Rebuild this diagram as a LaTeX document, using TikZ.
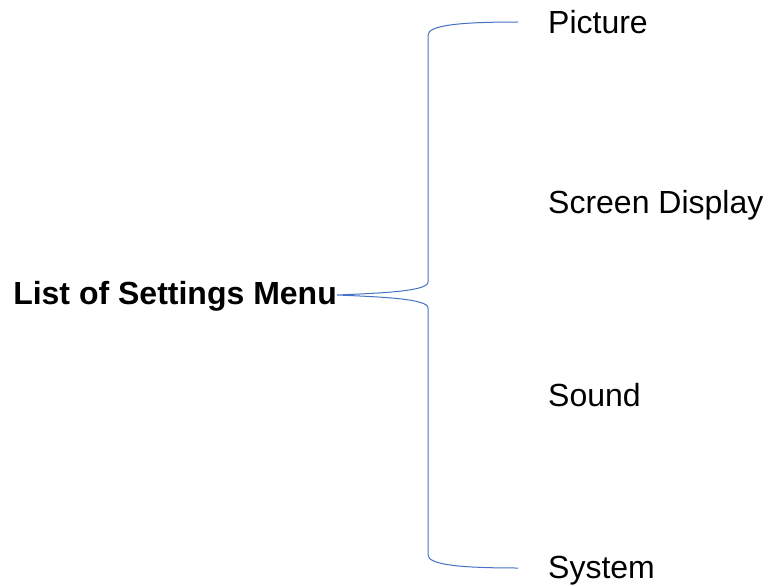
\documentclass[tikz,border=0pt]{standalone}
\usepackage{fontspec}
\setmainfont{Liberation Sans}
\definecolor{bracecol}{RGB}{68,114,196}
\begin{document}
\begin{tikzpicture}[x=1pt,y=-1pt,
  item/.style={anchor=base west,inner sep=0pt,font=\fontsize{32}{38}\selectfont},
  head/.style={anchor=base east,inner sep=0pt,font=\fontsize{32}{38}\selectfont\bfseries},
  brace/.style={draw=bracecol,line width=1pt}]
\useasboundingbox (0,0) rectangle (771,586);
\node[item] (pic) at (548,34) {Picture};
\node[item] (scr) at (548,213) {Screen Display};
\node[item] (snd) at (548,406) {Sound};
\node[item] (sys) at (548,578) {System};
\node[head] (menu) at (337,304) {List of Settings Menu};
\coordinate (tip) at (337,295);
\coordinate (top) at (518,22);
\coordinate (bot) at (518,568);
\draw[brace] (top) .. controls (462,22) and (428,25) .. (428,35)
  -- (428,282) .. controls (428,291) and (385,293) .. (tip)
  .. controls (385,297) and (428,299) .. (428,308)
  -- (428,555) .. controls (428,565) and (462,568) .. (bot);
\end{tikzpicture}
\end{document}
